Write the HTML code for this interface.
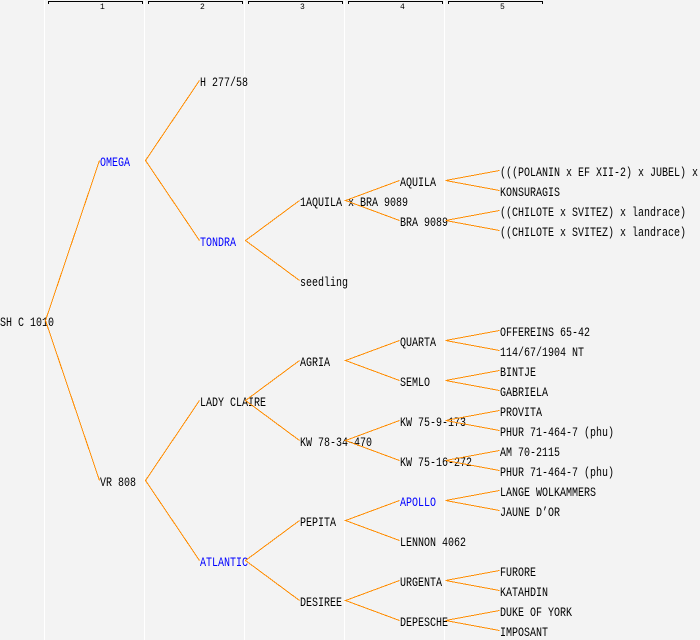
<!DOCTYPE html>
<html><head><meta charset="utf-8">
<style>
html,body{margin:0;padding:0;background:#f3f3f3;}
svg{display:block;}
text{font-family:"Liberation Mono","DejaVu Sans Mono",monospace;font-size:13px;fill:#000;}
.b{fill:#0000ff;}
.h{font-size:8px;}
</style></head>
<body>
<svg width="700" height="640" viewBox="0 0 700 640" xmlns="http://www.w3.org/2000/svg">
<rect x="0" y="0" width="700" height="640" fill="#f3f3f3"/>
<g fill="#ffffff">
<rect x="44" y="0" width="1" height="640"/>
<rect x="144" y="0" width="1" height="640"/>
<rect x="244" y="0" width="1" height="640"/>
<rect x="344" y="0" width="1" height="640"/>
<rect x="444" y="0" width="1" height="640"/>
</g>
<g fill="none" stroke="#000" stroke-width="1" shape-rendering="crispEdges">
<path d="M48.5,4 V1.5 H142.5 V4"/>
<path d="M148.5,4 V1.5 H242.5 V4"/>
<path d="M248.5,4 V1.5 H342.5 V4"/>
<path d="M348.5,4 V1.5 H442.5 V4"/>
<path d="M448.5,4 V1.5 H542.5 V4"/>
</g>
<text class="h" x="100" y="9">1</text>
<text class="h" x="200" y="9">2</text>
<text class="h" x="300" y="9">3</text>
<text class="h" x="400" y="9">4</text>
<text class="h" x="500" y="9">5</text>

<!-- labels -->
<text x="0" y="326" textLength="54" lengthAdjust="spacingAndGlyphs">SH C 1010</text>
<text class="b" x="100" y="166" textLength="30" lengthAdjust="spacingAndGlyphs">OMEGA</text>
<text x="100" y="486" textLength="36" lengthAdjust="spacingAndGlyphs">VR 808</text>
<text x="200" y="86" textLength="48" lengthAdjust="spacingAndGlyphs">H 277/58</text>
<text class="b" x="200" y="246" textLength="36" lengthAdjust="spacingAndGlyphs">TONDRA</text>
<text x="200" y="406" textLength="66" lengthAdjust="spacingAndGlyphs">LADY CLAIRE</text>
<text class="b" x="200" y="566" textLength="48" lengthAdjust="spacingAndGlyphs">ATLANTIC</text>
<text x="300" y="206" textLength="108" lengthAdjust="spacingAndGlyphs">1AQUILA x BRA 9089</text>
<text x="300" y="286" textLength="48" lengthAdjust="spacingAndGlyphs">seedling</text>
<text x="300" y="366" textLength="30" lengthAdjust="spacingAndGlyphs">AGRIA</text>
<text x="300" y="446" textLength="72" lengthAdjust="spacingAndGlyphs">KW 78-34-470</text>
<text x="300" y="526" textLength="36" lengthAdjust="spacingAndGlyphs">PEPITA</text>
<text x="300" y="606" textLength="42" lengthAdjust="spacingAndGlyphs">DESIREE</text>
<text x="400" y="186" textLength="36" lengthAdjust="spacingAndGlyphs">AQUILA</text>
<text x="400" y="226" textLength="48" lengthAdjust="spacingAndGlyphs">BRA 9089</text>
<text x="400" y="346" textLength="36" lengthAdjust="spacingAndGlyphs">QUARTA</text>
<text x="400" y="386" textLength="30" lengthAdjust="spacingAndGlyphs">SEMLO</text>
<text x="400" y="426" textLength="66" lengthAdjust="spacingAndGlyphs">KW 75-9-173</text>
<text x="400" y="466" textLength="72" lengthAdjust="spacingAndGlyphs">KW 75-16-272</text>
<text class="b" x="400" y="506" textLength="36" lengthAdjust="spacingAndGlyphs">APOLLO</text>
<text x="400" y="546" textLength="66" lengthAdjust="spacingAndGlyphs">LENNON 4062</text>
<text x="400" y="586" textLength="42" lengthAdjust="spacingAndGlyphs">URGENTA</text>
<text x="400" y="626" textLength="48" lengthAdjust="spacingAndGlyphs">DEPESCHE</text>
<text x="500" y="176" textLength="198" lengthAdjust="spacingAndGlyphs">(((POLANIN x EF XII-2) x JUBEL) x</text>
<text x="500" y="196" textLength="60" lengthAdjust="spacingAndGlyphs">KONSURAGIS</text>
<text x="500" y="216" textLength="186" lengthAdjust="spacingAndGlyphs">((CHILOTE x SVITEZ) x landrace)</text>
<text x="500" y="236" textLength="186" lengthAdjust="spacingAndGlyphs">((CHILOTE x SVITEZ) x landrace)</text>
<text x="500" y="336" textLength="90" lengthAdjust="spacingAndGlyphs">OFFEREINS 65-42</text>
<text x="500" y="356" textLength="84" lengthAdjust="spacingAndGlyphs">114/67/1904 NT</text>
<text x="500" y="376" textLength="36" lengthAdjust="spacingAndGlyphs">BINTJE</text>
<text x="500" y="396" textLength="48" lengthAdjust="spacingAndGlyphs">GABRIELA</text>
<text x="500" y="416" textLength="42" lengthAdjust="spacingAndGlyphs">PROVITA</text>
<text x="500" y="436" textLength="114" lengthAdjust="spacingAndGlyphs">PHUR 71-464-7 (phu)</text>
<text x="500" y="456" textLength="60" lengthAdjust="spacingAndGlyphs">AM 70-2115</text>
<text x="500" y="476" textLength="114" lengthAdjust="spacingAndGlyphs">PHUR 71-464-7 (phu)</text>
<text x="500" y="496" textLength="96" lengthAdjust="spacingAndGlyphs">LANGE WOLKAMMERS</text>
<text x="500" y="516" textLength="60" lengthAdjust="spacingAndGlyphs">JAUNE D’OR</text>
<text x="500" y="576" textLength="36" lengthAdjust="spacingAndGlyphs">FURORE</text>
<text x="500" y="596" textLength="48" lengthAdjust="spacingAndGlyphs">KATAHDIN</text>
<text x="500" y="616" textLength="72" lengthAdjust="spacingAndGlyphs">DUKE OF YORK</text>
<text x="500" y="636" textLength="48" lengthAdjust="spacingAndGlyphs">IMPOSANT</text>

<!-- connectors -->
<g fill="none" stroke="#ff8c00" stroke-width="1" shape-rendering="crispEdges">
<path d="M99.5,160.5 L45.5,320.5 L99.5,480.5"/>
<path d="M199.5,80.5 L145.5,160.5 L199.5,240.5"/>
<path d="M199.5,400.5 L145.5,480.5 L199.5,560.5"/>
<path d="M299.5,200.5 L245.5,240.5 L299.5,280.5"/>
<path d="M299.5,360.5 L245.5,400.5 L299.5,440.5"/>
<path d="M299.5,520.5 L245.5,560.5 L299.5,600.5"/>
<path d="M399.5,180.5 L345.5,200.5 L399.5,220.5"/>
<path d="M399.5,340.5 L345.5,360.5 L399.5,380.5"/>
<path d="M399.5,420.5 L345.5,440.5 L399.5,460.5"/>
<path d="M399.5,500.5 L345.5,520.5 L399.5,540.5"/>
<path d="M399.5,580.5 L345.5,600.5 L399.5,620.5"/>
<path d="M499.5,170.5 L445.5,180.5 L499.5,190.5"/>
<path d="M499.5,210.5 L445.5,220.5 L499.5,230.5"/>
<path d="M499.5,330.5 L445.5,340.5 L499.5,350.5"/>
<path d="M499.5,370.5 L445.5,380.5 L499.5,390.5"/>
<path d="M499.5,410.5 L445.5,420.5 L499.5,430.5"/>
<path d="M499.5,450.5 L445.5,460.5 L499.5,470.5"/>
<path d="M499.5,490.5 L445.5,500.5 L499.5,510.5"/>
<path d="M499.5,570.5 L445.5,580.5 L499.5,590.5"/>
<path d="M499.5,610.5 L445.5,620.5 L499.5,630.5"/>
</g>
</svg>
</body></html>
